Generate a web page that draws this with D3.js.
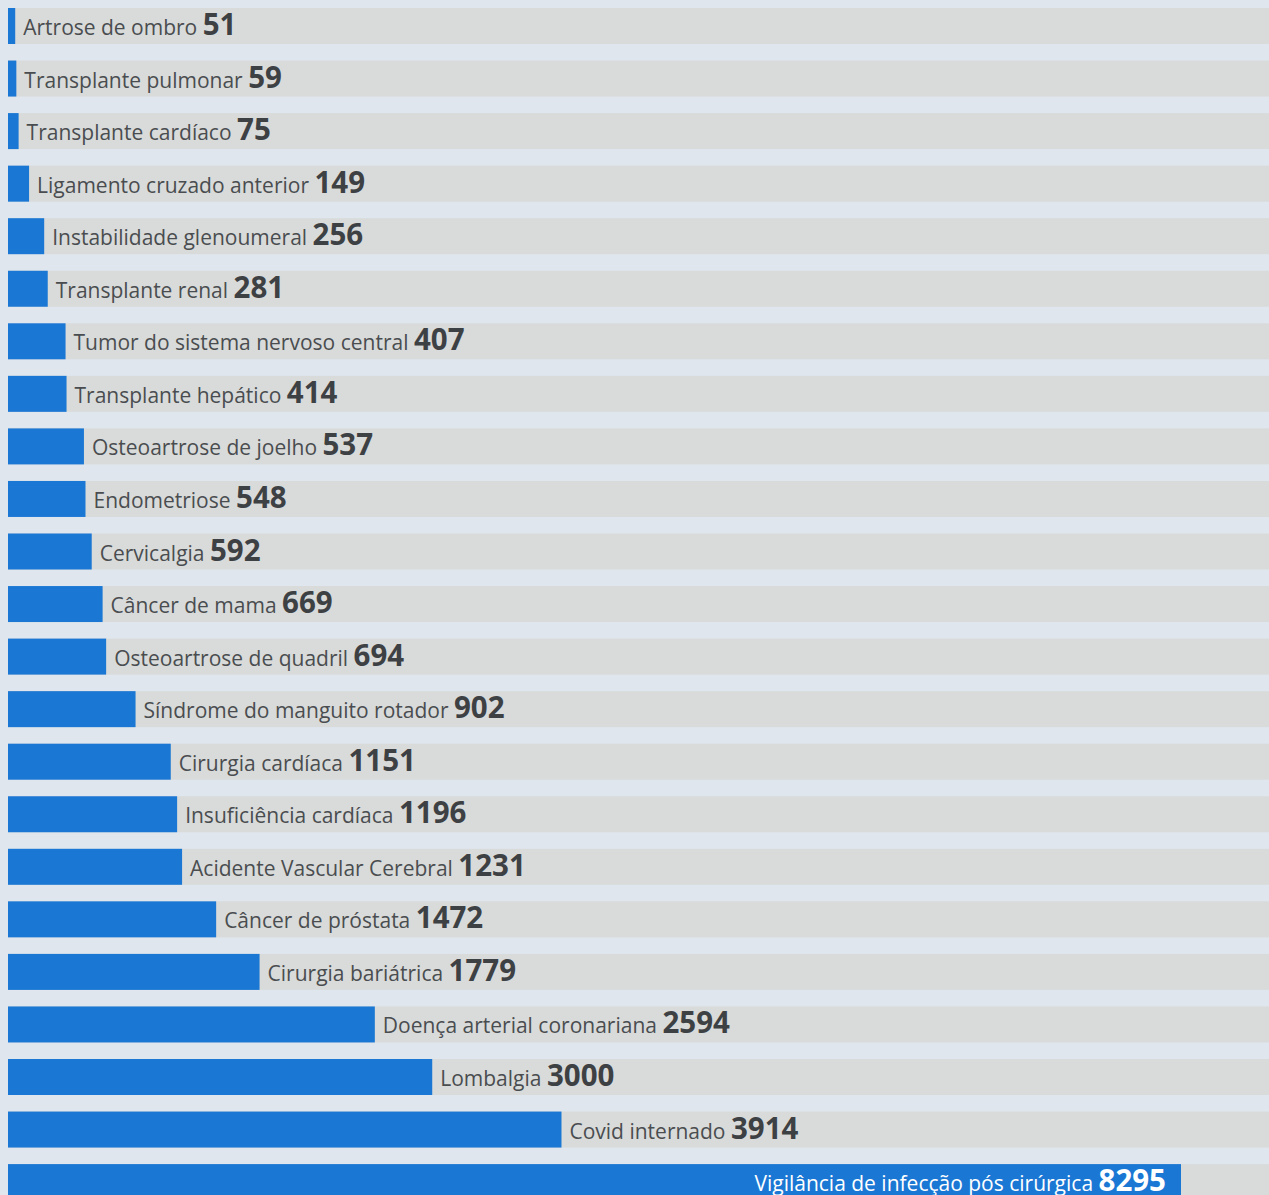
<!DOCTYPE html>
<html>
<head>
<meta charset="utf-8">
<script src="https://cdn.jsdelivr.net/npm/d3@7"></script>
<style>
  html, body { margin: 0; padding: 0; background: #dfe6ee; }
  svg { display: block; }
</style>
</head>
<body>
<svg id="chart"></svg>
<script>
const categories = [
  "Artrose de ombro", "Transplante pulmonar", "Transplante cardíaco",
  "Ligamento cruzado anterior", "Instabilidade glenoumeral", "Transplante renal",
  "Tumor do sistema nervoso central", "Transplante hepático", "Osteoartrose de joelho",
  "Endometriose", "Cervicalgia", "Câncer de mama", "Osteoartrose de quadril",
  "Síndrome do manguito rotador", "Cirurgia cardíaca", "Insuficiência cardíaca",
  "Acidente Vascular Cerebral", "Câncer de próstata", "Cirurgia bariátrica",
  "Doença arterial coronariana", "Lombalgia", "Covid internado",
  "Vigilância de infecção pós cirúrgica"
];
const values = [51, 59, 75, 149, 256, 281, 407, 414, 537, 548, 592, 669, 694,
  902, 1151, 1196, 1231, 1472, 1779, 2594, 3000, 3914, 8295];

function drawChart() {
  const width = 1269, height = 1195;
  const left = 8;

  const svg = d3.select("#chart")
    .attr("width", width)
    .attr("height", height);

  const x = d3.scaleLinear().domain([0, 8295]).range([0, 1173]);
  const y = d3.scaleBand()
    .domain(categories)
    .range([8, 1200.1])
    .paddingInner(0.315)
    .paddingOuter(0);

  const rows = svg.selectAll("g.row")
    .data(categories)
    .enter()
    .append("g")
    .attr("class", "row")
    .attr("transform", d => `translate(0, ${y(d)})`);

  // background track
  rows.append("rect")
    .attr("x", left)
    .attr("width", width - left)
    .attr("height", y.bandwidth())
    .attr("fill", "#d9dbda");

  // value bar
  rows.append("rect")
    .attr("x", left)
    .attr("width", (d, i) => x(values[i]))
    .attr("height", y.bandwidth())
    .attr("fill", "#1a77d4");

  const last = categories.length - 1;

  const text = rows.append("text")
    .attr("y", 27)
    .attr("x", (d, i) => i === last ? left + x(values[i]) - 15 : left + x(values[i]) + 8)
    .attr("text-anchor", (d, i) => i === last ? "end" : "start")
    .style("font-family", "'Open Sans', sans-serif")
    .attr("fill", (d, i) => i === last ? "#ffffff" : "#4a4d50");

  text.append("tspan")
    .style("font-size", "21px")
    .text(d => d + " ");

  text.append("tspan")
    .style("font-size", "29.5px")
    .style("font-weight", "bold")
    .attr("fill", (d, i) => i === last ? "#ffffff" : "#3e4144")
    .text((d, i) => values[i]);
}

drawChart();
</script>
</body>
</html>
